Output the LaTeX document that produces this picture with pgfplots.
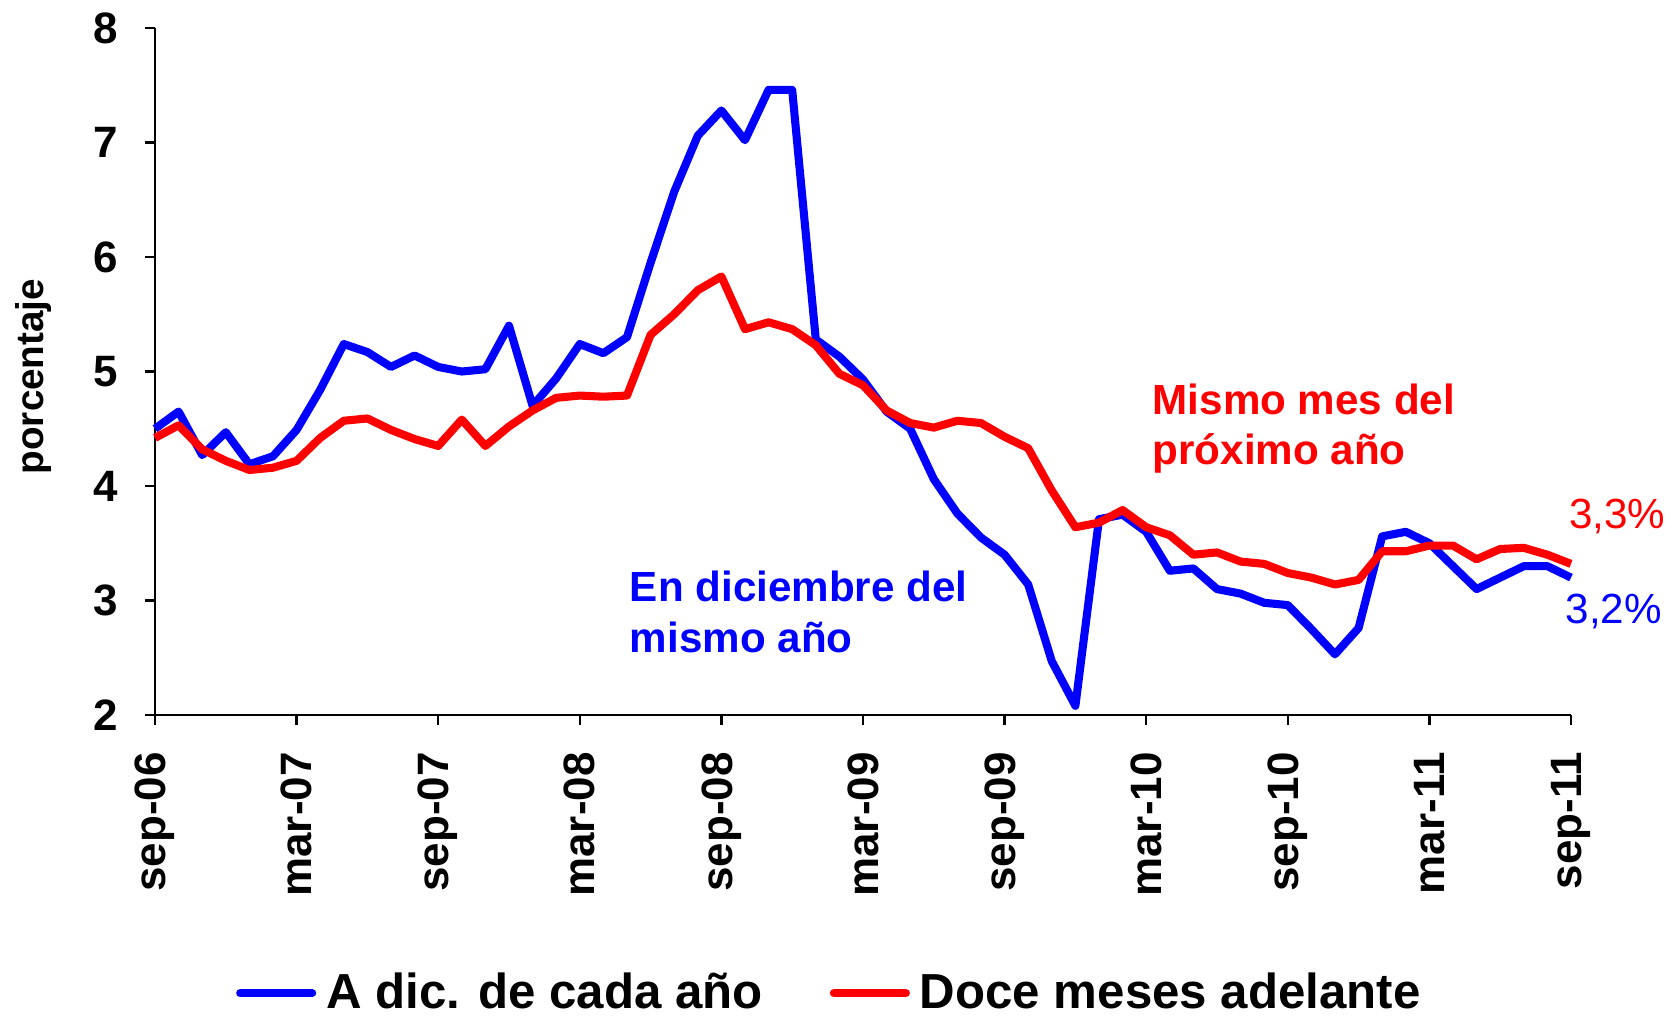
\documentclass[border=0pt]{standalone}
\usepackage{pgfplots}
\pgfplotsset{compat=1.18}
\usepackage{pgfplotstable}
\usepackage{fontspec}
\setmainfont{Liberation Sans}
\definecolor{myblue}{RGB}{0,0,255}
\definecolor{myred}{RGB}{255,0,0}
\pgfplotstableread{
i blue red
0 4.50 4.42
1 4.65 4.53
2 4.27 4.32
3 4.47 4.22
4 4.19 4.14
5 4.26 4.16
6 4.49 4.22
7 4.84 4.42
8 5.24 4.57
9 5.17 4.59
10 5.04 4.49
11 5.14 4.41
12 5.04 4.35
13 5.00 4.58
14 5.02 4.35
15 5.40 4.52
16 4.70 4.66
17 4.94 4.77
18 5.24 4.79
19 5.16 4.78
20 5.30 4.79
21 5.95 5.32
22 6.57 5.50
23 7.06 5.71
24 7.28 5.83
25 7.02 5.37
26 7.46 5.43
27 7.46 5.37
28 5.28 5.23
29 5.13 4.98
30 4.93 4.88
31 4.65 4.66
32 4.50 4.55
33 4.06 4.51
34 3.76 4.57
35 3.55 4.55
36 3.40 4.43
37 3.14 4.33
38 2.47 3.96
39 2.08 3.64
40 3.71 3.68
41 3.75 3.79
42 3.60 3.64
43 3.26 3.57
44 3.28 3.40
45 3.10 3.42
46 3.06 3.34
47 2.98 3.32
48 2.96 3.24
49 2.75 3.20
50 2.53 3.14
51 2.76 3.18
52 3.56 3.43
53 3.60 3.43
54 3.50 3.48
55 3.30 3.48
56 3.10 3.36
57 3.20 3.45
58 3.30 3.46
59 3.30 3.40
60 3.20 3.32
}\datatable
\begin{document}
\begin{tikzpicture}
\path[use as bounding box] (-15.5mm,-30.3mm) rectangle (152.4mm,71.5mm);
\begin{axis}[
  at={(0,0)}, anchor=south west,
  scale only axis, width=141.6mm, height=68.7mm,
  xmin=0, xmax=60, ymin=2, ymax=8,
  axis lines=left, axis line style={line width=0.7pt, -},
  tick align=outside, major tick length=1mm,
  tick style={line width=0.7pt, black},
  xtick={0,6,...,60},
  xticklabels={sep-06,mar-07,sep-07,mar-08,sep-08,mar-09,sep-09,mar-10,sep-10,mar-11,sep-11},
  x tick label style={rotate=90, anchor=east, font=\fontsize{12.5}{14}\selectfont\bfseries, xshift=-1.5mm},
  ytick={2,3,...,8},
  y tick label style={font=\fontsize{12.5}{14}\selectfont\bfseries, xshift=-1.5mm},
  /pgf/number format/assume math mode=true,
  legend columns=2,
  legend style={at={(0.478,-0.405)}, anchor=center, draw=none, fill=none,
    font=\fontsize{14}{16}\selectfont\bfseries, column sep=0.3mm,
    /tikz/every even column/.append style={column sep=6mm}},
  legend image code/.code={\draw[#1, line cap=round] (0mm,0mm) -- (7.2mm,0mm);},
  clip=false,
]
\addplot[myblue, line width=2.3pt, line join=round] table[x=i, y=blue] {\datatable};
\addlegendentry{A dic. de cada año}
\addplot[myred, line width=2.3pt, line join=round] table[x=i, y=red] {\datatable};
\addlegendentry{Doce meses adelante}
\node[rotate=90, anchor=center, font=\fontsize{11}{13}\selectfont\bfseries] at ([xshift=-12.1mm,yshift=-0.5mm]rel axis cs:0,0.5) {porcentaje};
\node[anchor=west, align=left, text=myblue, font=\fontsize{12}{14.3}\selectfont\bfseries] at (axis cs:19.6,2.90) {En diciembre del\\mismo año};
\node[anchor=west, align=left, text=myred, font=\fontsize{12}{14.3}\selectfont\bfseries] at (axis cs:41.75,4.50) {Mismo mes del\\próximo año};
\node[anchor=west, text=myred, font=\fontsize{12}{14}\selectfont, inner sep=0pt] at (axis cs:59.9,3.73) {3,3\%};
\node[anchor=west, text=myblue, font=\fontsize{12}{14}\selectfont, inner sep=0pt] at (axis cs:59.75,2.90) {3,2\%};
\end{axis}
\end{tikzpicture}
\end{document}
